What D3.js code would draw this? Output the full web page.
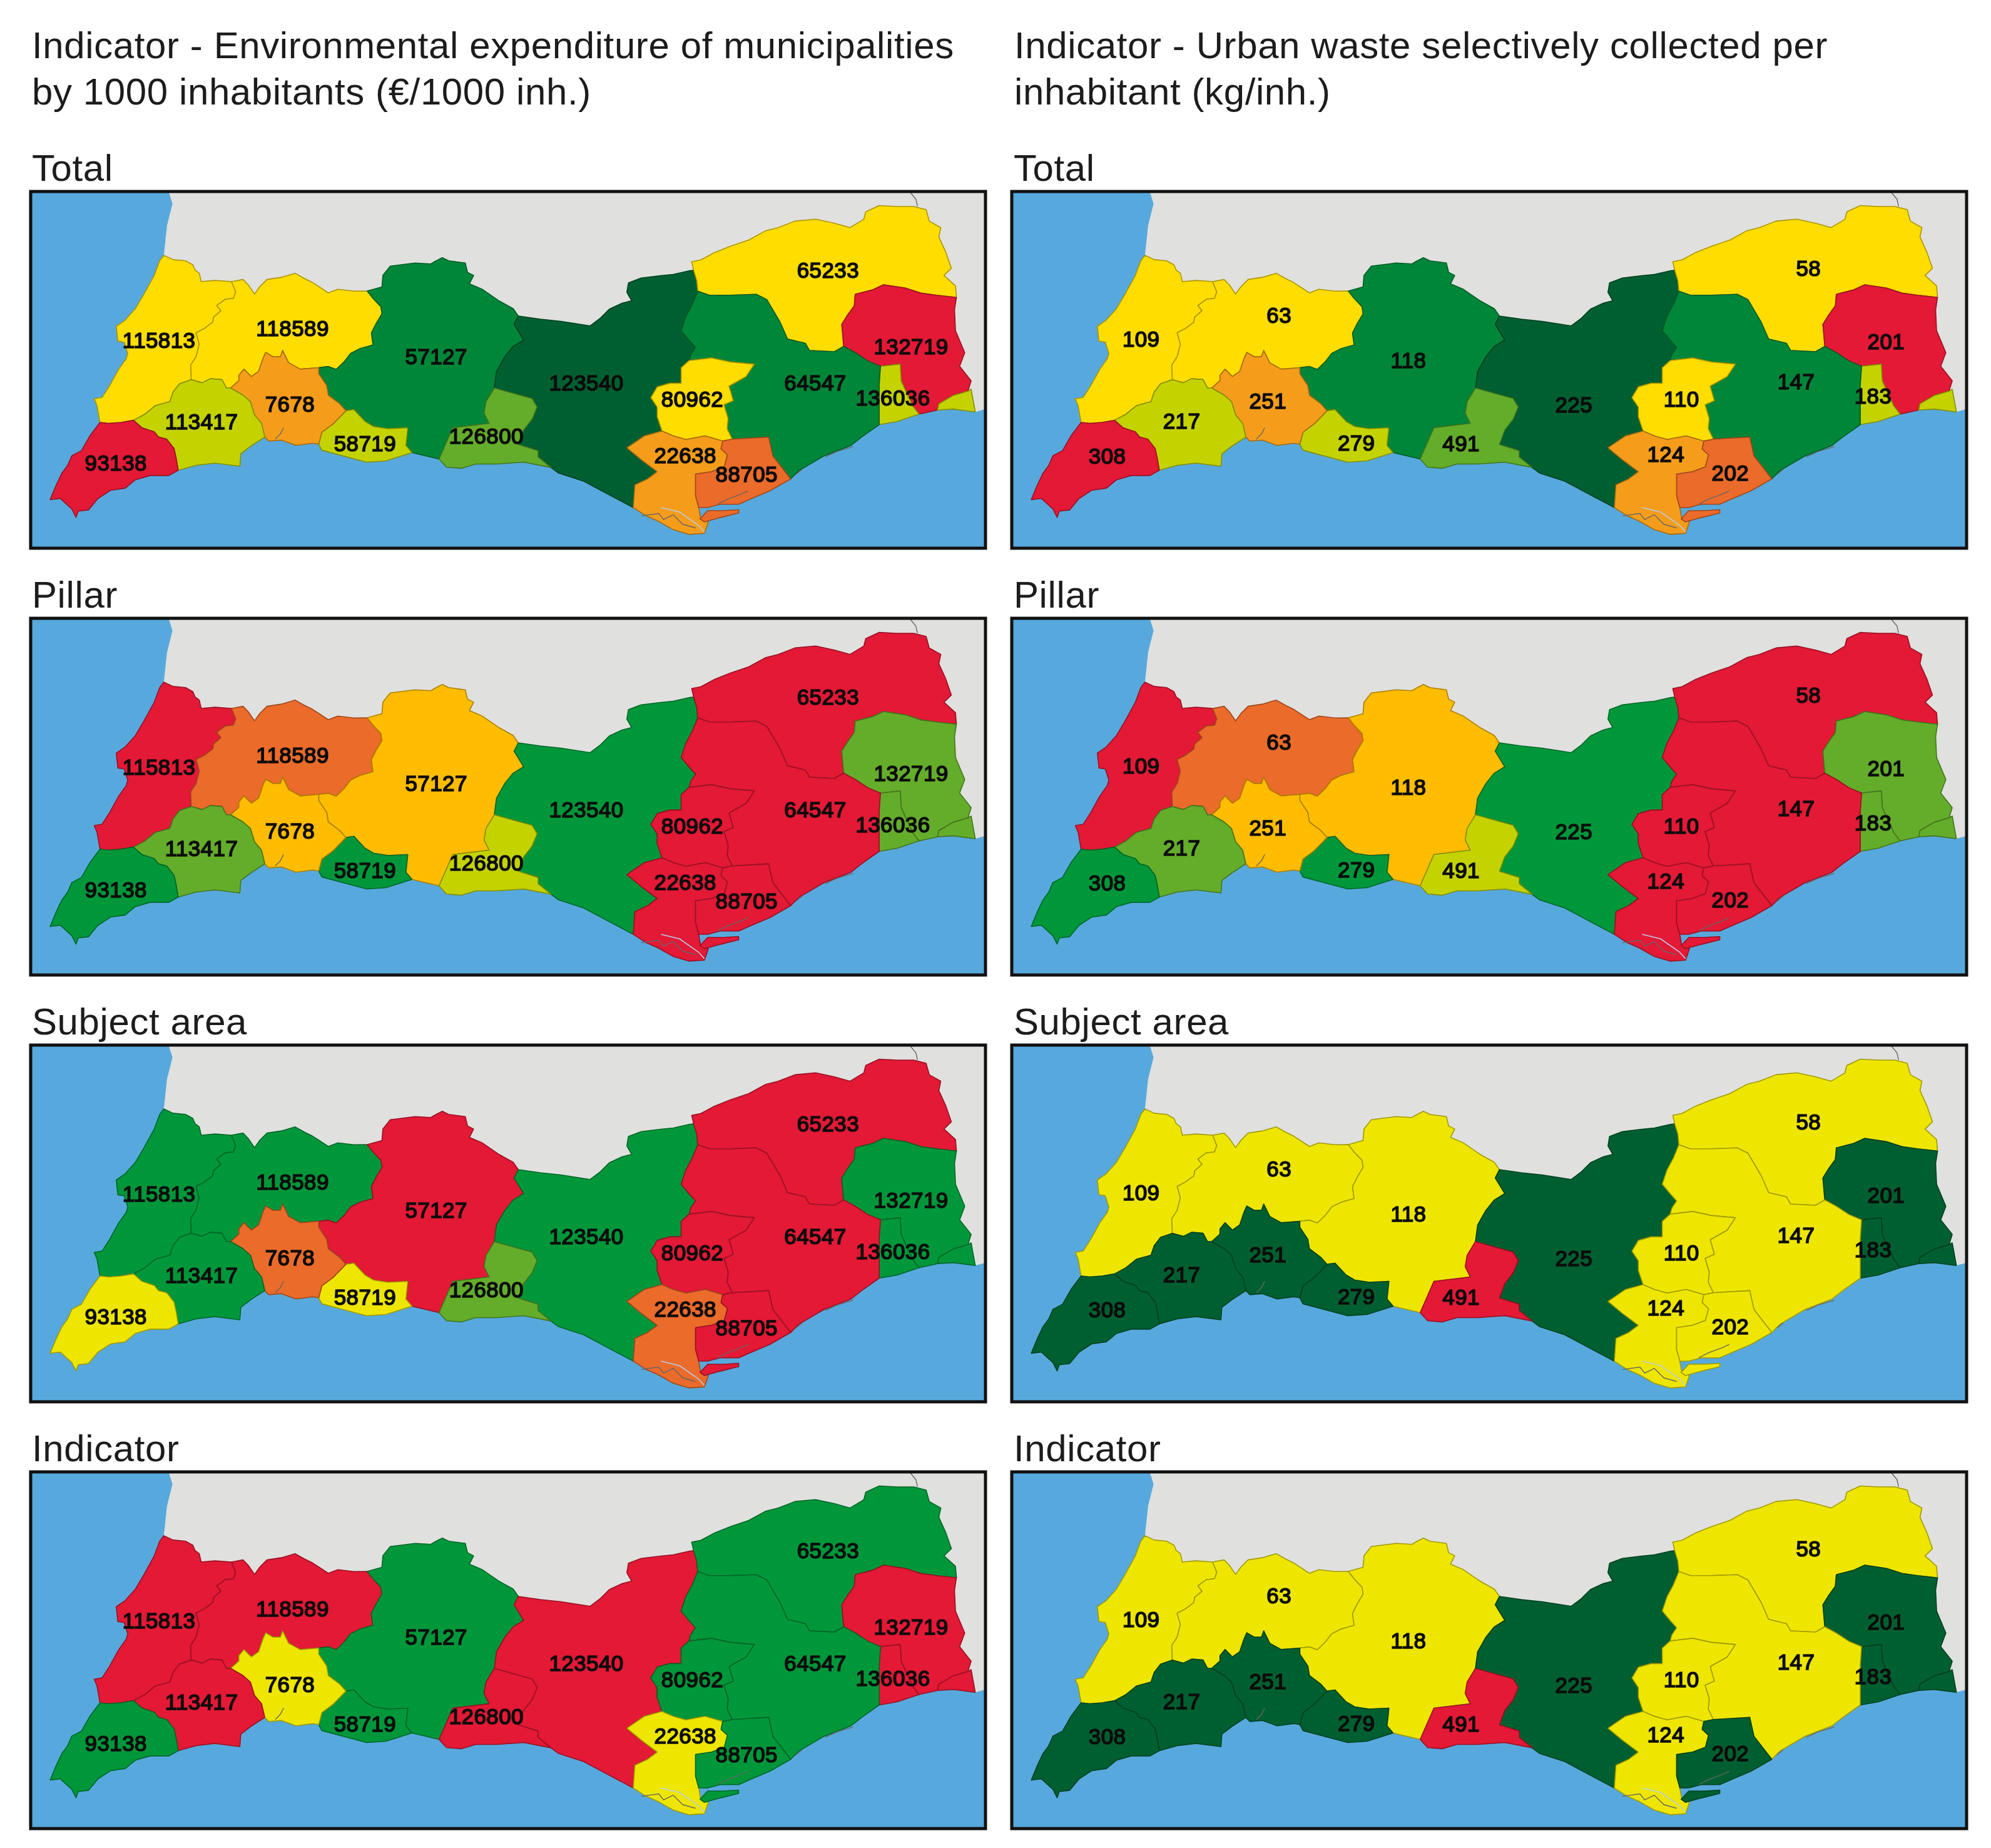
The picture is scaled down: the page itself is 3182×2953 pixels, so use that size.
<!DOCTYPE html>
<html>
<head>
<meta charset="utf-8">
<script src="https://cdn.jsdelivr.net/npm/d3@7"></script>
<style>
html, body { margin: 0; padding: 0; background: #fff; }
svg { display: block; filter: blur(0.7px); }
.head { font-family: "Liberation Sans", Arial, sans-serif; font-size: 60px; letter-spacing: 0.6px; fill: #1c1c1c; }
.val { font-family: "Liberation Sans", Arial, sans-serif; font-size: 35px; letter-spacing: 0.4px; fill: #0c0c0c; text-anchor: middle; stroke: #0c0c0c; stroke-width: 1.7px; }
</style>
</head>
<body>
<script>
// municipalities, same order in every list below
const ids = ["A", "B", "C", "D", "E", "F", "G", "H", "I", "J", "K", "L", "M", "N", "O", "P"];
const expenditure = [115813, 118589, 57127, 123540, 65233, 132719, 136036, 64547, 80962, 22638, 88705, 126800, 58719, 7678, 113417, 93138];
const waste = [109, 63, 118, 225, 58, 201, 183, 147, 110, 124, 202, 491, 279, 251, 217, 308];

const rowNames = ["Total", "Pillar", "Subject area", "Indicator"];
const titlesLeft = ["Indicator - Environmental expenditure of municipalities", "by 1000 inhabitants (€/1000 inh.)"];
const titlesRight = ["Indicator - Urban waste selectively collected per", "inhabitant (kg/inh.)"];

const classNames = ["red", "dkorange", "orange", "amber", "gold", "yellow", "ygreen", "midgreen", "green2", "green", "dkgreen"];
const classColors = ["#E31936", "#EB6B2A", "#F59D1B", "#FFBC00", "#FFDD00", "#EEE600", "#C4D300", "#64AD2B", "#00973A", "#008638", "#005F30"];

const totalClasses = ["gold", "gold", "green", "dkgreen", "gold", "red", "ygreen", "green", "gold", "orange", "dkorange", "midgreen", "ygreen", "orange", "ygreen", "red"];
const pillarClasses = ["red", "dkorange", "amber", "green2", "red", "midgreen", "midgreen", "red", "red", "red", "red", "ygreen", "green2", "amber", "midgreen", "green2"];
const subjectLeft = ["green2", "green2", "red", "green2", "red", "green2", "green2", "red", "red", "dkorange", "red", "midgreen", "yellow", "dkorange", "green2", "yellow"];
const indicatorLeft = ["red", "red", "green2", "red", "green2", "red", "red", "green2", "green2", "yellow", "green2", "red", "green2", "yellow", "red", "green2"];
const subjectRight = ["yellow", "yellow", "yellow", "dkgreen", "yellow", "dkgreen", "dkgreen", "yellow", "yellow", "yellow", "yellow", "red", "dkgreen", "dkgreen", "dkgreen", "dkgreen"];
const indicatorRight = ["yellow", "yellow", "yellow", "dkgreen", "yellow", "dkgreen", "dkgreen", "yellow", "yellow", "yellow", "dkgreen", "red", "dkgreen", "dkgreen", "dkgreen", "dkgreen"];

// map outline pieces, in map units
const arcs = {
    aW: [[235,1004],[226,934],[217,905],[242,899],[265,851],[294,781],[317,738],[322,716],[311,668],[291,664],[286,602],[314,576],[346,528],[373,467],[405,389],[422,328],[435,305]],
    aN: [[435,305],[464,323],[503,328],[526,345],[533,367],[546,380],[552,415],[595,410],[647,415]],
    ab: [[647,415],[660,458],[653,485],[627,489],[601,515],[614,537],[591,563],[588,585],[562,611],[536,629],[546,677],[536,729],[519,764],[521,825]],
    ao: [[521,825],[484,842],[464,877],[454,917],[408,934],[376,969],[340,995]],
    ap: [[340,995],[301,1004],[262,1008],[235,1004]],
    bN: [[647,415],[683,406],[699,428],[719,467],[735,437],[758,406],[803,397],[846,380],[875,402],[901,419],[950,462],[980,447],[1030,455],[1072,454]],
    bc: [[1072,454],[1090,485],[1115,520],[1118,550],[1100,590],[1085,630],[1090,680],[1050,695],[1020,715],[1000,750],[975,782],[950,770],[920,775]],
    bn: [[920,775],[901,777],[862,781],[826,755],[807,703],[800,729],[777,729],[754,711],[745,738],[732,790],[709,812],[686,781],[670,807],[670,829],[644,860]],
    bo: [[644,860],[631,860],[617,825],[581,821],[555,838],[521,825]],
    no: [[644,860],[683,890],[706,917],[719,973],[741,1008],[751,1065]],
    op: [[340,995],[366,1026],[405,1043],[418,1065],[444,1074],[467,1113],[474,1156],[480,1204]],
    oS: [[480,1204],[536,1183],[595,1174],[673,1187],[676,1135],[706,1104],[751,1065]],
    pS: [[480,1204],[451,1226],[392,1226],[346,1244],[314,1279],[268,1288],[229,1322],[199,1370],[167,1375],[160,1401],[147,1366],[111,1322],[79,1327],[98,1266],[115,1218],[134,1183],[147,1143],[177,1122],[203,1061],[235,1004]],
    nS: [[751,1065],[764,1082],[803,1078],[849,1100],[901,1091],[920,1095]],
    nm: [[920,1095],[930,1045],[965,1010],[1005,955]],
    nc: [[1005,955],[985,925],[950,890],[945,850],[920,800],[920,775]],
    mS: [[920,1095],[930,1120],[1000,1145],[1070,1170],[1130,1165],[1212,1130]],
    mc: [[1212,1130],[1193,1100],[1199,1026],[1137,1030],[1092,1021],[1065,1000],[1030,950],[1005,955]],
    cN: [[1072,454],[1118,437],[1121,389],[1144,350],[1222,337],[1271,341],[1285,330],[1307,315],[1327,328],[1379,337],[1386,376],[1405,389],[1392,424],[1431,446],[1483,494],[1529,528],[1545,559]],
    cd: [[1545,559],[1532,594],[1562,659],[1529,686],[1503,729],[1477,790],[1470,860]],
    cl: [[1470,860],[1444,917],[1438,965],[1454,1008],[1340,1026],[1320,1087],[1297,1157]],
    cS: [[1212,1130],[1297,1157]],
    dl: [[1470,860],[1529,882],[1588,904],[1604,939],[1588,991],[1562,1035],[1545,1096],[1607,1122],[1607,1148],[1647,1192]],
    lS: [[1297,1157],[1320,1191],[1366,1196],[1412,1178],[1477,1178],[1562,1170],[1647,1192]],
    dN: [[1545,559],[1614,572],[1679,581],[1770,600],[1800,570],[1830,530],[1870,505],[1900,495],[1885,460],[1890,420],[1930,400],[1990,390],[2030,385],[2080,370],[2094,367]],
    de: [[2094,367],[2104,411],[2107,455]],
    dh: [[2107,455],[2090,510],[2070,560],[2055,620],[2080,660],[2100,690],[2085,720],[2080,745]],
    di: [[2080,745],[2055,775],[2055,840],[2020,840],[1980,855],[1960,900],[1980,940],[1980,980],[1995,1040]],
    dj: [[1995,1040],[1940,1060],[1885,1110],[1930,1160],[1980,1210],[1950,1240],[1910,1265],[1905,1360]],
    dS: [[1647,1192],[1670,1215],[1750,1250],[1820,1300],[1905,1360]],
    eN: [[2094,367],[2088,332],[2117,324],[2160,293],[2209,267],[2267,241],[2320,202],[2359,189],[2411,162],[2476,154],[2535,171],[2584,189],[2627,154],[2633,123],[2675,97],[2731,101],[2783,101],[2822,114],[2832,162],[2868,189],[2862,228],[2884,293],[2901,359],[2878,389],[2914,433],[2917,481]],
    ef: [[2917,481],[2855,472],[2806,463],[2757,442],[2689,428],[2653,450],[2600,468],[2597,516],[2574,559],[2558,594],[2564,686]],
    eh: [[2564,686],[2535,708],[2457,703],[2444,673],[2388,655],[2365,585],[2323,490],[2290,468],[2209,472],[2143,472],[2107,455]],
    fE: [[2917,481],[2911,533],[2914,620],[2943,712],[2927,769],[2963,830],[2953,873]],
    fg2: [[2953,873],[2907,891],[2862,926],[2858,952]],
    fS: [[2858,952],[2800,969]],
    fg1: [[2800,969],[2780,935],[2744,830],[2741,760]],
    gTop: [[2741,760],[2679,769]],
    hf: [[2679,769],[2640,747],[2600,712],[2564,686]],
    gh: [[2675,1013],[2675,847],[2679,769]],
    gS: [[2800,969],[2731,1000],[2675,1013]],
    g2S: [[2858,952],[2907,948],[2976,960],[2963,865],[2953,873]],
    hI: [[2080,745],[2150,734],[2209,751],[2284,760],[2258,812],[2205,852],[2218,913],[2189,930],[2202,987],[2199,1030],[2215,1074]],
    ij: [[1995,1040],[2030,1060],[2070,1075],[2130,1060],[2185,1082]],
    ij2: [[2185,1082],[2215,1074]],
    hk: [[2215,1074],[2329,1065],[2342,1144],[2398,1240]],
    hS: [[2398,1240],[2424,1205],[2502,1144],[2587,1100],[2620,1065],[2675,1013]],
    jk: [[2185,1082],[2180,1115],[2200,1140],[2190,1190],[2150,1210],[2100,1220],[2100,1310],[2110,1360]],
    jS: [[1905,1360],[1943,1393],[1982,1416],[2031,1453],[2079,1472],[2128,1468],[2140,1420],[2115,1400],[2110,1360]],
    kS: [[2398,1240],[2333,1290],[2274,1323],[2235,1346],[2177,1346],[2138,1360],[2110,1360]],
    kIsle: [[2114,1407],[2138,1373],[2187,1373],[2235,1369],[2235,1383],[2177,1402],[2128,1420],[2114,1407]]
};

// which pieces close each municipality, "-" walks a piece backwards
const rings = {
    A: ["aW aN ab ao ap"],
    B: ["bN bc bn bo -ab"],
    C: ["cN cd cl -cS mc nc -bc"],
    D: ["dN de dh di dj -dS -dl -cd"],
    E: ["eN ef eh -de"],
    F: ["fE fg2 fS fg1 gTop hf -ef"],
    G: ["gh -gTop -fg1 gS", "fg2 g2S"],
    H: ["hI hk hS gh hf eh dh"],
    I: ["-di hI -ij2 -ij"],
    J: ["ij jk -jS -dj"],
    K: ["ij2 hk kS -jk", "kIsle"],
    L: ["dl -lS -cl"],
    M: ["mS mc -nm"],
    N: ["-bn -nc -nm -nS -no"],
    O: ["ao op oS -no bo"],
    P: ["pS -ap op"]
};

// sea drawn under the land, it only has to run inside the municipalities
const sea = [[18,38],[450,38],[462,90],[445,180],[435,305],[600,800],[1500,900],[2600,900],[2900,948],[2976,960],[3008,948],[3008,1530],[18,1530]];
const thinLines = [
    [[2770,38],[2790,70],[2795,100]],
    [[1930,1395],[1985,1385],[2000,1410],[2030,1390],[2060,1430],[2100,1445]],
    [[2170,1345],[2200,1325],[2240,1305],[2265,1290]],
    [[810,1026],[800,1052],[784,1074]],
    [[2506,1148],[2542,1126],[2594,1105]],
    [[2414,1222],[2434,1200]]
];
const lagoon = [[1992,1360],[2050,1379],[2109,1434],[2128,1462]];

const labelsLeft = [[420,660],[838,612],[1288,728],[1758,838],[2515,368],[2775,688],[2718,902],[2475,840],[2090,908],[2068,1142],[2260,1222],[1445,1062],[1065,1092],[830,928],[553,1002],[285,1175]];
const labelsRight = [[423,657],[855,557],[1260,745],[1778,931],[2513,359],[2756,667],[2715,894],[2474,834],[2115,907],[2066,1137],[2268,1215],[1425,1092],[1097,1089],[820,915],[550,999],[317,1145]];

const width = 3182, height = 2953;
const panelW = 1526, panelH = 570;
const colX = d3.scaleOrdinal([0, 1], [49, 1617]);
const rowY = d3.scaleOrdinal([0, 1, 2, 3], [306, 988, 1670, 2352]);
const xMap = d3.scaleLinear().domain([18, 3008]).range([0, panelW]);
const yMap = d3.scaleLinear().domain([38, 1530]).range([0, panelH]);
const fillOf = d3.scaleOrdinal(classNames, classColors);
const line = d3.line().x(d => xMap(d[0])).y(d => yMap(d[1]));

function ringPoints(spec) {
    let pts = [];
    spec.split(" ").forEach(name => {
        let part = name[0] === "-" ? arcs[name.slice(1)].slice().reverse() : arcs[name];
        pts = pts.concat(part);
    });
    return pts;
}

let svg = d3.select("body").append("svg")
    .attr("width", width)
    .attr("height", height)
    .attr("viewBox", [0, 0, width, height]);

svg.append("defs").append("clipPath").attr("id", "frame")
    .append("rect").attr("width", panelW).attr("height", panelH);

function drawPanel(col, row, classes, values, labels) {
    let g = svg.append("g")
        .attr("transform", "translate(" + colX(col) + "," + rowY(row) + ")");

    svg.append("text")
        .attr("class", "head")
        .attr("x", colX(col) + (col ? 3 : 2))
        .attr("y", rowY(row) - 17)
        .text(rowNames[row]);

    let map = g.append("g").attr("clip-path", "url(#frame)");

    map.append("rect").attr("width", panelW).attr("height", panelH).attr("fill", "#E0E0DE");
    map.append("path").attr("d", line(sea) + "Z").attr("fill", "#57A9DD");

    map.selectAll("path.muni")
        .data(ids)
        .join("path")
        .attr("class", "muni")
        .attr("d", id => rings[id].map(r => line(ringPoints(r)) + "Z").join(""))
        .attr("fill", (id, i) => fillOf(classes[i]))
        .attr("stroke", (id, i) => d3.color(fillOf(classes[i])).darker(1.1))
        .attr("stroke-width", 1.6)
        .attr("stroke-linejoin", "round");

    map.selectAll("path.thin")
        .data(thinLines)
        .join("path")
        .attr("class", "thin")
        .attr("d", line)
        .attr("fill", "none")
        .attr("stroke", "#666")
        .attr("stroke-width", 1.4);

    map.append("path")
        .attr("d", line(lagoon))
        .attr("fill", "none")
        .attr("stroke", "#B8CDE6")
        .attr("stroke-width", 1.6);

    g.selectAll("text.val")
        .data(values)
        .join("text")
        .attr("class", "val")
        .attr("x", (d, i) => xMap(labels[i][0]))
        .attr("y", (d, i) => yMap(labels[i][1]) + 12)
        .text(d => d);

    g.append("rect")
        .attr("width", panelW)
        .attr("height", panelH)
        .attr("fill", "none")
        .attr("stroke", "#111")
        .attr("stroke-width", 5);
}

[totalClasses, pillarClasses, subjectLeft, indicatorLeft].forEach((c, row) => drawPanel(0, row, c, expenditure, labelsLeft));
[totalClasses, pillarClasses, subjectRight, indicatorRight].forEach((c, row) => drawPanel(1, row, c, waste, labelsRight));

titlesLeft.forEach((t, i) => svg.append("text").attr("class", "head").attr("x", 51).attr("y", 93 + i * 74).text(t));
titlesRight.forEach((t, i) => svg.append("text").attr("class", "head").attr("x", 1621).attr("y", 93 + i * 74).text(t));
</script>
</body>
</html>
